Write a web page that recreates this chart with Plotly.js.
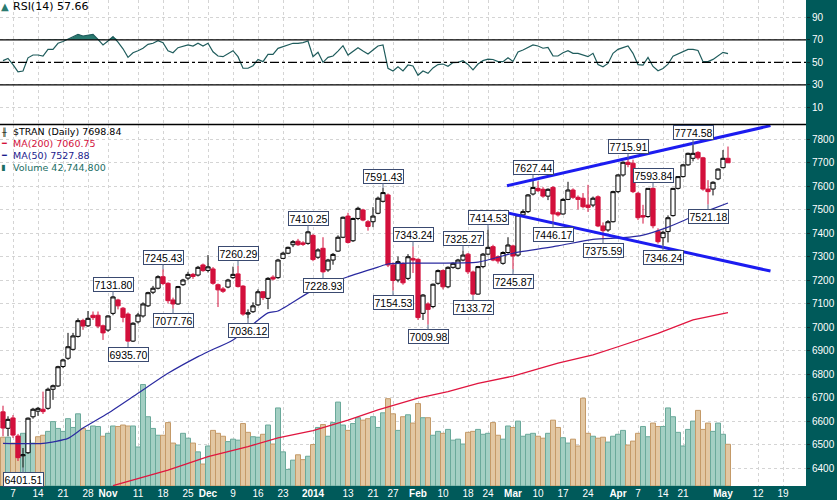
<!DOCTYPE html>
<html>
<head>
<meta charset="utf-8">
<script src="https://cdn.plot.ly/plotly-3.0.1.min.js"></script>
<style>html,body{margin:0;padding:0;background:#fff;}#chart{width:837px;height:500px;}</style>
</head>
<body>
<div id="chart"></div>
<script>
// ---------- data (index 0 = Oct 7 2013, trading days) ----------
const firstIndex = -2;
const opens = [6639,6569,6613,6536,6452,6465,6618,6642,6650,6654,
6735,6749,6832,6867,6905,6960,7028,7005,7050,7050,
7005,6987,7058,7115,7080,7055,6940,7022,7047,7090,
7148,7165,7214,7186,7115,7098,7180,7208,7224,7221,
7264,7241,7247,7180,7162,7170,7210,7226,7174,7055,
7065,7094,7150,7122,7212,7210,7292,7314,7350,7365,
7358,7356,7390,7297,7335,7243,7285,7323,7382,7472,
7367,7462,7498,7448,7448,7484,7535,7562,7264,7200,
7270,7207,7292,7288,7058,7098,7087,7186,7240,7171,
7254,7250,7285,7310,7234,7140,7257,7310,7342,7299,
7271,7317,7345,7306,7477,7491,7566,7590,7586,7557,
7594,7486,7481,7543,7583,7552,7548,7519,7519,7554,
7430,7413,7448,7576,7647,7701,7697,7569,7474,7470,
7590,7408,7380,7406,7474,7590,7640,7690,7718,7743,
7720,7587,7587,7630,7678,7718];
const highs = [6665,6620,6625,6545,6485,6615,6656,6660,6725,6742,
6755,6835,6865,6975,6975,7037,7035,7068,7066,7066,
7010,7050,7131.80,7120,7085,7062,7020,7060,7105,7150,
7175,7220,7245.43,7190,7125,7175,7205,7235,7230,7260,
7270,7306,7255,7185,7170,7205,7257,7260.29,7178,7075,
7105,7160,7152,7212,7220,7290,7320,7342,7370,7375,
7365,7410.25,7395,7335,7382,7290,7315,7390,7470,7486,
7465,7512,7503,7455,7510,7555,7591.43,7568,7275,7300,
7275,7310,7343.24,7292,7140,7105,7185,7245,7245,7258,
7275,7290,7325.27,7315,7240,7260,7315,7414.53,7350,7305,
7322,7382,7350,7480,7500,7566,7627.44,7620,7595,7590,
7600,7492,7548,7618,7590,7560,7570,7605,7555,7560,
7445,7455,7580,7650,7705,7715.91,7712,7575,7520,7590,
7593.84,7420,7410,7475,7592,7642,7694,7742,7774.58,7748,
7724,7625,7620,7675,7753,7768];
const lows = [6535,6535,6528,6430,6401.51,6460,6610,6622,6630,6648,
6690,6745,6825,6860,6900,6955,6988,7000,7030,6995,
6945,6980,7050,7075,7020,6935.70,6936,7015,7040,7085,
7140,7160,7178,7100,7077.76,7095,7175,7200,7205,7215,
7235,7232,7180,7085,7145,7165,7205,7168,7048,7036.12,
7060,7090,7115,7076,7198,7205,7290,7310,7340,7345,
7345,7350,7280,7290,7228.93,7235,7265,7320,7378,7355,
7362,7455,7450,7410,7425,7480,7530,7255,7154.53,7190,
7180,7200,7230,7030,7030,7009.98,7080,7180,7160,7165,
7248,7245,7280,7225,7133.72,7138,7250,7305,7280,7270,
7265,7312,7245.87,7300,7470,7485,7560,7575,7550,7540,
7446.17,7470,7478,7540,7545,7500,7505,7490,7510,7425,
7375.59,7405,7445,7570,7640,7680,7570,7455,7440,7465,
7420,7355,7346.24,7360,7470,7585,7636,7686,7705,7712,
7580,7521.18,7560,7625,7675,7700];
const closes = [6570,6607,6540,6444,6456,6612,6650,6654,6640,6735,
6750,6831,6860,6916,6962,7027,7004,7037,7040,7004,
6975,7047,7128,7090,7041,6940,7016,7051,7098,7146,
7165,7214,7185,7112,7098,7172,7200,7224,7215,7254,
7240,7256,7186,7158,7152,7200,7224,7172,7055,7060,
7090,7150,7125,7207,7204,7285,7314,7339,7363,7350,
7352,7405,7287,7328,7235,7285,7309,7382,7467,7360,
7462,7505,7455,7428,7472,7548,7572,7264,7198,7278,
7188,7299,7285,7040,7136,7075,7182,7240,7171,7254,
7271,7285,7306,7235,7140,7257,7310,7339,7285,7281,
7317,7349,7302,7477,7491,7562,7594,7580,7557,7586,
7481,7477,7543,7583,7552,7543,7512,7509,7548,7430,
7410,7448,7576,7647,7701,7692,7576,7465,7468,7590,
7431,7363,7403,7465,7590,7640,7690,7739,7739,7720,
7587,7576,7616,7672,7718,7698.84];
// volume in millions of shares
const volumeM = [50,50,44,40,54,47,44,50.5,52,56,
66,59,56,69,60,74,59,57,61.5,61,
51,54,61.5,61,62.5,61.5,61.5,40,104,71,
59,52,52,65,44,42,54,49,44,35,
22.5,41,57,54,51,45.5,48,47,64,55,
50.5,50,53,62.5,43,80,35,17,26.5,32,
27,30.5,42.5,60,63,51,65,86,62.5,57,
64,70,67.5,69,71,60,75,89.5,74,57,
71,73,64.5,84.5,70,70,52,56,54,58,
47,48,43,55,56,58,53,54,65,52,
48,61.5,60,66.5,51,53,54,51,49,54,
67.5,60,49.5,44,48,41,90,54,51,49,
50,45,51,53,57,42,46,54,61,50.5,
64.5,61,61,80,71,55,41,58,66.5,77.5,
58,64.5,56,64.5,53,42.7448];
const volumeDir = [-1,1,-1,-1,1,1,1,-1,-1,1,
1,1,1,1,1,1,-1,1,1,1,
-1,1,1,-1,-1,-1,1,1,1,1,
1,1,-1,-1,-1,1,1,1,-1,1,
-1,1,-1,-1,-1,1,1,1,-1,-1,
1,1,-1,1,-1,1,1,1,1,-1,
-1,1,-1,1,-1,1,1,1,1,-1,
1,1,-1,-1,1,1,1,-1,-1,1,
-1,1,-1,-1,1,-1,1,1,-1,1,
1,1,1,-1,-1,1,1,1,-1,-1,
1,1,-1,1,1,1,1,-1,-1,1,
-1,-1,1,1,-1,-1,-1,-1,1,-1,
-1,1,1,1,1,-1,-1,-1,1,1,
-1,-1,1,1,1,1,1,1,1,-1,
-1,-1,1,1,1,-1];
const rsi14 = [51.5,53.5,48,41.6,42.3,54,56.5,56.5,55.6,61.5,
61.5,66.9,68.5,70.5,72.5,74.9,73.4,74,74.9,70.4,
65.4,69,72.8,68,62,54.4,58.5,60.3,62.5,66,
66.9,69.2,67.4,60.3,58.5,63,64.5,65.4,64.5,66.9,
64.5,66.9,59.4,55.6,55,58,60.3,55,44.7,44.7,
47,52.6,50.6,57.1,57.1,62.4,64,65.8,66.9,66.9,
67.5,68.9,55,58.9,50,54.4,55.6,60,64.8,56.5,
60,63,60,57.4,61,64.5,65.4,44.7,42.3,46.1,
42.3,47.6,46.7,38.5,42.3,40.2,45,48,48.5,46.5,
49.8,50,51.4,48.1,43.2,48.5,51.5,52.8,52.5,50.6,
50.6,54.1,50.8,59.2,60.9,63.5,65.4,64.5,62.5,63.3,
55.7,55.6,58.5,60.3,58,58,56.5,55,58,48,
46.1,49,58,61.5,63,64.5,58,48,47.6,54.4,
46.3,42.5,44.5,48.3,55.4,57.4,59.4,61.5,61.5,60.5,
50.6,50.6,52.6,55.6,58.9,57.66];
// moving averages, read at sample days
const ma50Day = [-2,6,11,14,19,25,31,37,39,44,51,53,60,67,73,75,80,93,100,109,116,122,126,131,136,139,143];
const ma50Val = [6505,6505,6526,6570,6633,6718,6803,6874,6895,6945,7060,7068,7157,7214,7255,7268,7272,7276,7314,7345,7373,7380,7391,7425,7470,7495,7527.88];
const ma200Day = [20,31,39,47,53,60,67,73,81,87,93,100,109,116,121,129,136,143];
const ma200Val = [6325,6391,6448,6491,6528,6559,6604,6647,6697,6725,6760,6791,6846,6881,6916,6973,7030,7060.75];
// hand-drawn trend lines
const upperTrendDay = [98.8,151.5], upperTrendVal = [7601,7857];
const lowerTrendDay = [98.8,151.5], lowerTrendVal = [7486,7238];
// pivot labels
const pivotDay = [2,20,23,30,32,45,47,59,62,74,76,80,83,90,92,95,100,104,108,118,123,128,130,136,139];
const pivotVal = [6401.51,7131.80,6935.70,7245.43,7077.76,7260.29,7036.12,7410.25,7228.93,7591.43,7154.53,7343.24,7009.98,7325.27,7133.72,7414.53,7245.87,7627.44,7446.17,7375.59,7715.91,7593.84,7346.24,7774.58,7521.18];
const pivotType = ['L','H','L','H','L','H','L','H','L','H','L','H','L','H','L','H','L','H','L','L','H','H','L','H','L'];
// x-axis labels
const tickDay = [0,5,10,15,19,25,30,35,39,44,49,54,60,67,72,76,81,86,91,95,100,105,110,115,121,125,130,134,142,149,154];
const tickLabel = ['7','14','21','28','Nov','11','18','25','Dec','9','16','23','2014','13','21','27','Feb','10','18','24','Mar','10','17','24','Apr','7','14','21','May','12','19'];
const priceTicks = [6400,6500,6600,6700,6800,6900,7000,7100,7200,7300,7400,7500,7600,7700,7800];
const rsiTicks = [10,30,50,70,90];
// legend entries
const legendText = ['RSI(14) 57.66','$TRAN (Daily) 7698.84','MA(200) 7060.75','MA(50) 7527.88','Volume 42,744,800'];

// ---------- build ----------
const F = 'Liberation Sans, Arial, sans-serif';
const FD = 'DejaVu Sans, Verdana, sans-serif';
const days = closes.map((_, k) => k + firstIndex);
const monthNames = ['Nov','Dec','2014','Feb','Mar','Apr','May'];
const tickText = tickLabel.map(t => monthNames.includes(t) ? '<b>' + t + '</b>' : t);

const RED = '#d3103c';
const TEAL_BG = '#005a5a';
const GRID = '#d4d4d4';

const volFill = volumeDir.map(d => d > 0 ? '#a3cfc3' : '#e2c7a2');
const volLine = volumeDir.map(d => d > 0 ? '#6aa99a' : '#c49a68');

const traces = [
  {x: days, y: days.map(() => 70), xaxis: 'x2', yaxis: 'y', type: 'scatter', mode: 'lines',
   line: {width: 0, color: 'rgba(0,0,0,0)'}, hoverinfo: 'skip'},
  {x: days, y: rsi14.map(v => Math.max(v, 70)), xaxis: 'x2', yaxis: 'y', type: 'scatter', mode: 'lines',
   fill: 'tonexty', fillcolor: '#2a7a70', line: {width: 0, color: 'rgba(0,0,0,0)'}, hoverinfo: 'skip'},
  {x: days, y: rsi14, xaxis: 'x2', yaxis: 'y', type: 'scatter', mode: 'lines',
   line: {color: '#1f5c5c', width: 1.2}, hoverinfo: 'skip'},
  {x: days, y: volumeM, xaxis: 'x', yaxis: 'y2', type: 'bar', width: 1,
   marker: {color: volFill, line: {color: volLine, width: 1}}, hoverinfo: 'skip'},
  {x: ma200Day, y: ma200Val, xaxis: 'x', yaxis: 'y3', type: 'scatter', mode: 'lines',
   line: {color: '#e0153f', width: 1.3}, hoverinfo: 'skip'},
  {x: ma50Day, y: ma50Val, xaxis: 'x', yaxis: 'y3', type: 'scatter', mode: 'lines', line: {shape: 'spline', smoothing: 0.6,
   color: '#2a2aa0', width: 1.2}, hoverinfo: 'skip'},
  {x: days, open: opens, high: highs, low: lows, close: closes, xaxis: 'x', yaxis: 'y3', type: 'candlestick',
   whiskerwidth: 0,
   increasing: {line: {color: '#000000', width: 1}, fillcolor: '#ffffff'},
   decreasing: {line: {color: RED, width: 1}, fillcolor: RED}, hoverinfo: 'skip'},
  {x: upperTrendDay, y: upperTrendVal, xaxis: 'x', yaxis: 'y3', type: 'scatter', mode: 'lines',
   line: {color: '#1c1cf0', width: 3}, hoverinfo: 'skip'},
  {x: lowerTrendDay, y: lowerTrendVal, xaxis: 'x', yaxis: 'y3', type: 'scatter', mode: 'lines',
   line: {color: '#1c1cf0', width: 3}, hoverinfo: 'skip'}
];

const rsiSplit = 0.7438;
const annotations = pivotDay.map((d, k) => ({
  x: d, y: pivotVal[k], xref: 'x', yref: 'y3',
  text: pivotVal[k].toFixed(2),
  showarrow: true, arrowhead: 0, arrowwidth: 1, arrowcolor: '#5a6a8a', standoff: 0,
  ax: 0, ay: pivotType[k] === 'H' ? -12 : 12,
  bgcolor: '#ffffff', bordercolor: '#3a4a70', borderwidth: 1, borderpad: 0.5,
  font: {family: F, size: 10.5, color: '#000'}
}));
const py = Y => (486 - Y) / 486;
const px = X => X / 806;
const legendY = [7, 131.5, 143.5, 155.5, 167.5];
const legendSize = [11, 9.5, 9.5, 9.5, 9.5];
const legendColor = ['#000', '#000', RED, '#1a1a8c', '#1a6e64'];
const iconText = ['▲', '╫', '━', '━', '▮'];
const iconColor = ['#2a7a70', '#000', RED, '#1a1a8c', '#1a6e64'];
legendText.forEach((t, k) => {
  annotations.push({
    x: px(0), y: py(legendY[k]), xref: 'paper', yref: 'paper', xanchor: 'left', yanchor: 'middle',
    showarrow: false, text: iconText[k], borderpad: 0, font: {family: FD, size: k === 0 ? 10 : 8, color: iconColor[k]}
  });
  annotations.push({
    x: px(12), y: py(legendY[k]), xref: 'paper', yref: 'paper', xanchor: 'left', yanchor: 'middle',
    showarrow: false, text: t, borderpad: 0, font: {family: FD, size: legendSize[k], color: legendColor[k]}
  });
});

const shapes = [
  {type: 'line', xref: 'paper', yref: 'y', x0: 0, x1: 1, y0: 70, y1: 70, line: {color: '#000', width: 1.3}},
  {type: 'line', xref: 'paper', yref: 'y', x0: 0, x1: 1, y0: 30, y1: 30, line: {color: '#000', width: 1.3}},
  {type: 'line', xref: 'paper', yref: 'y', x0: 0, x1: 1, y0: 50, y1: 50, line: {color: '#000', width: 1.2, dash: 'dashdot'}},
  {type: 'line', xref: 'paper', yref: 'paper', x0: 0, x1: 1, y0: rsiSplit, y1: rsiSplit, line: {color: '#000', width: 1.5}}
];

const gridCommon = {showgrid: true, gridcolor: GRID, griddash: '3px,3px', gridwidth: 1, zeroline: false};
const layout = {
  width: 837, height: 500,
  margin: {l: 0, r: 31, t: 0, b: 14, pad: 0},
  paper_bgcolor: TEAL_BG, plot_bgcolor: '#ffffff',
  showlegend: false,
  bargap: 0, boxgap: 0.16, boxgroupgap: 0,
  xaxis: Object.assign({}, gridCommon, {
    domain: [0, 1], range: [-2.6, 158.6], anchor: 'y2',
    tickmode: 'array', tickvals: tickDay, ticktext: tickText, ticks: '',
    tickfont: {family: F, size: 10, color: '#ffffff'},
    rangeslider: {visible: false}, showline: false, fixedrange: true
  }),
  xaxis2: Object.assign({}, gridCommon, {
    matches: 'x', anchor: 'y', tickmode: 'array', tickvals: tickDay, showticklabels: false, ticks: ''
  }),
  yaxis: Object.assign({}, gridCommon, {
    domain: [rsiSplit, 1], range: [-5.3, 105.4], anchor: 'x2', side: 'right',
    tickmode: 'array', tickvals: rsiTicks, ticks: 'outside', ticklen: 3, tickcolor: '#0b2e2e',
    tickfont: {family: F, size: 10, color: '#ffffff'}, showline: false
  }),
  yaxis2: {domain: [0, rsiSplit], range: [0, 370.5], anchor: 'x', showgrid: false, zeroline: false,
    showticklabels: false, ticks: ''},
  yaxis3: Object.assign({}, gridCommon, {
    overlaying: 'y2', anchor: 'x', side: 'right', range: [6323.4, 7861.7],
    tickmode: 'array', tickvals: priceTicks, ticks: 'outside', ticklen: 3, tickcolor: '#0b2e2e',
    tickfont: {family: F, size: 10, color: '#ffffff'}, showline: false
  }),
  shapes: shapes,
  annotations: annotations
};

Plotly.newPlot('chart', traces, layout, {staticPlot: true, displayModeBar: false});
</script>
</body>
</html>
